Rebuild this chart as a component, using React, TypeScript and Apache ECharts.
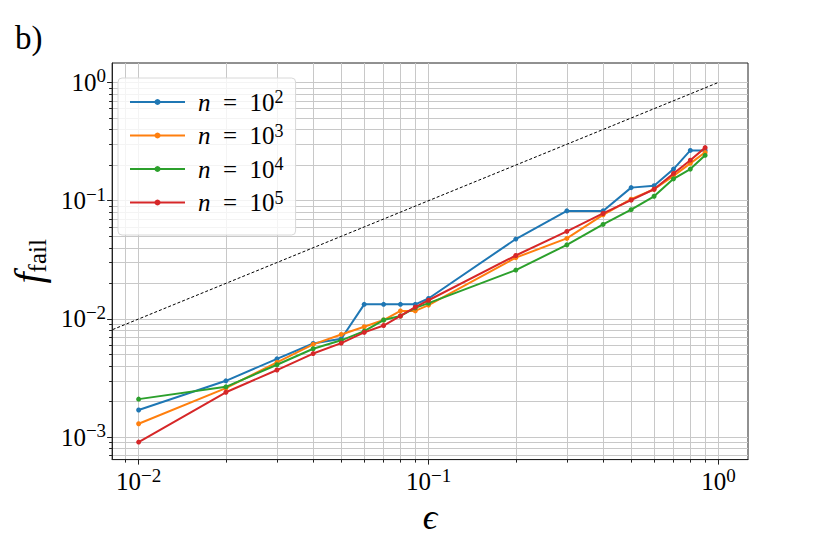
import React, { useEffect, useRef } from "react";
import * as echarts from "echarts";

const epsilons = [0.01, 0.02, 0.03, 0.04, 0.05, 0.06, 0.07, 0.08, 0.09, 0.1, 0.2, 0.3, 0.4, 0.5, 0.6, 0.7, 0.8, 0.9];
const fN2 = [0.0017, 0.003, 0.0046, 0.0062, 0.0068, 0.0133, 0.0133, 0.0133, 0.0133, 0.0149, 0.0474, 0.082, 0.082, 0.129, 0.134, 0.185, 0.266, 0.266];
const fN3 = [0.0013, 0.0026, 0.0043, 0.0061, 0.0074, 0.0086, 0.0098, 0.0117, 0.0117, 0.0131, 0.033, 0.048, 0.076, 0.103, 0.125, 0.162, 0.207, 0.256];
const fN4 = [0.0021, 0.00267, 0.0041, 0.0056, 0.0066, 0.0079, 0.0098, 0.0106, 0.0124, 0.0136, 0.0259, 0.0423, 0.063, 0.084, 0.109, 0.153, 0.185, 0.242];
const fN5 = [0.00091, 0.0024, 0.0037, 0.0051, 0.00625, 0.0077, 0.0088, 0.0106, 0.0126, 0.0144, 0.0344, 0.055, 0.078, 0.101, 0.125, 0.17, 0.22, 0.281];
const seriesNames = ["n2", "n3", "n4", "n5"];
const seriesExps = ["2", "3", "4", "5"];
const seriesColors = ["#1f77b4", "#ff7f0e", "#2ca02c", "#d62728"];
const refLine = [[0.001, 0.001], [1, 1]];

const xMajorTicks = [0.01, 0.1, 1];
const yMajorTicks = [0.001, 0.01, 0.1, 1];
const xMinorTicks = [
  0.009, 0.01, 0.02, 0.03, 0.04, 0.05, 0.06, 0.07, 0.08, 0.09,
  0.1, 0.2, 0.3, 0.4, 0.5, 0.6, 0.7, 0.8, 0.9, 1,
];
const yMinorTicks = [
  0.0007, 0.0008, 0.0009,
  0.001, 0.002, 0.003, 0.004, 0.005, 0.006, 0.007, 0.008, 0.009,
  0.01, 0.02, 0.03, 0.04, 0.05, 0.06, 0.07, 0.08, 0.09,
  0.1, 0.2, 0.3, 0.4, 0.5, 0.6, 0.7, 0.8, 0.9, 1,
];
const X_MIN = 0.0081;
const X_MAX = 1.265;
const Y_MIN = 0.000647;
const Y_MAX = 1.46;

const FONT = "'Liberation Serif', 'DejaVu Serif', serif";

const tickRich = {
  b: { fontFamily: FONT, fontSize: 25, color: "#000", lineHeight: 32 },
  s: { fontFamily: FONT, fontSize: 19, color: "#000", lineHeight: 19, verticalAlign: "top" as const },
};
const fmtPow = (v: number) => {
  const e = Math.round(Math.log10(v));
  const s = e < 0 ? "\u2212" + String(-e) : String(e);
  return `{b|10}{s|${s}}`;
};

export default function App() {
  const ref = useRef<HTMLDivElement>(null);
  useEffect(() => {
    if (!ref.current) return;
    const chart = echarts.init(ref.current, undefined, { renderer: "svg" });
    const dataSets = [fN2, fN3, fN4, fN5];
    const series: any[] = dataSets.map((arr, i) => ({
      name: seriesNames[i],
      type: "line",
      xAxisIndex: 0,
      yAxisIndex: 0,
      data: epsilons.map((x, j) => [x, arr[j]]),
      symbol: "circle",
      symbolSize: 5,
      showSymbol: true,
      color: seriesColors[i],
      lineStyle: { width: 2, color: seriesColors[i] },
      itemStyle: { color: seriesColors[i] },
      z: 3 + i,
    }));
    series.push({
      name: "ref",
      type: "line",
      xAxisIndex: 0,
      yAxisIndex: 0,
      data: refLine,
      symbol: "none",
      clip: true,
      lineStyle: { width: 1, color: "#000", type: [3, 2] },
      z: 2,
    });
    const gridLine = { show: true, lineStyle: { color: "#c8c8c8", width: 1 } };
    chart.setOption({
      animation: false,
      backgroundColor: "#fff",
      grid: { left: 105, right: 82, top: 63, bottom: 69, show: true, borderColor: "#222", borderWidth: 1, backgroundColor: "transparent" },
      graphic: [
        { type: "text", left: 15, top: 21, style: { text: "b)", fontFamily: FONT, fontSize: 33, fill: "#000" } },
      ],
      legend: {
        data: seriesNames,
        left: 118,
        top: 78,
        orient: "vertical",
        itemWidth: 55,
        itemHeight: 7.5,
        itemGap: 7,
        padding: [10, 12, 20, 11],
        backgroundColor: "rgba(255,255,255,0.8)",
        borderColor: "#d8d8d8",
        borderWidth: 1,
        borderRadius: 4,
        formatter: (name: string) => `{i|n}{t|\u2002=\u200210}{s|${seriesExps[seriesNames.indexOf(name)]}}`,
        textStyle: {
          fontFamily: FONT,
          fontSize: 24,
          color: "#000",
          rich: {
            i: { fontFamily: FONT, fontSize: 25, fontStyle: "italic", lineHeight: 28, padding: [0, 0, 0, 8] },
            t: { fontFamily: FONT, fontSize: 25, lineHeight: 28 },
            s: { fontFamily: FONT, fontSize: 18, lineHeight: 18, verticalAlign: "top" },
          },
        },
      },
      xAxis: [
        {
          type: "log",
          min: X_MIN,
          max: X_MAX,
          position: "bottom",
          name: "\u03f5",
          nameLocation: "middle",
          nameGap: 30,
          nameTextStyle: { fontFamily: FONT, fontSize: 36, fontStyle: "italic", color: "#000" },
          axisLine: { show: true, onZero: false, lineStyle: { color: "#222", width: 1 } },
          axisTick: { show: true, customValues: xMinorTicks, length: 3, lineStyle: { color: "#222" } },
          axisLabel: { show: true, customValues: xMajorTicks, formatter: fmtPow, margin: 6, rich: tickRich },
          splitLine: gridLine,
        },
        {
          type: "log",
          min: X_MIN,
          max: X_MAX,
          position: "bottom",
          axisLine: { show: false, onZero: false },
          axisTick: { show: true, customValues: xMajorTicks, length: 5, lineStyle: { color: "#222" } },
          axisLabel: { show: false },
          splitLine: { show: false },
        },
      ],
      yAxis: [
        {
          type: "log",
          min: Y_MIN,
          max: Y_MAX,
          position: "left",
          name: "{f|f}{sub|fail}",
          nameLocation: "middle",
          nameRotate: 90,
          nameGap: 58,
          nameTextStyle: {
            rich: {
              f: { fontFamily: FONT, fontSize: 40, fontStyle: "italic", color: "#000", lineHeight: 44 },
              sub: { fontFamily: FONT, fontSize: 25, color: "#000", lineHeight: 25, verticalAlign: "bottom" },
            },
          },
          axisLine: { show: true, onZero: false, lineStyle: { color: "#222", width: 1 } },
          axisTick: { show: true, customValues: yMinorTicks, length: 3, lineStyle: { color: "#222" } },
          axisLabel: { show: true, customValues: yMajorTicks, formatter: fmtPow, margin: 6, rich: tickRich },
          splitLine: gridLine,
        },
        {
          type: "log",
          min: Y_MIN,
          max: Y_MAX,
          position: "left",
          axisLine: { show: false, onZero: false },
          axisTick: { show: true, customValues: yMajorTicks, length: 5, lineStyle: { color: "#222" } },
          axisLabel: { show: false },
          splitLine: { show: false },
        },
      ],
      series,
    });
    return () => chart.dispose();
  }, []);
  return (
    <div
      ref={ref}
      style={{ position: "absolute", left: 0, top: 0, width: 830, height: 540, background: "#fff" }}
    />
  );
}
